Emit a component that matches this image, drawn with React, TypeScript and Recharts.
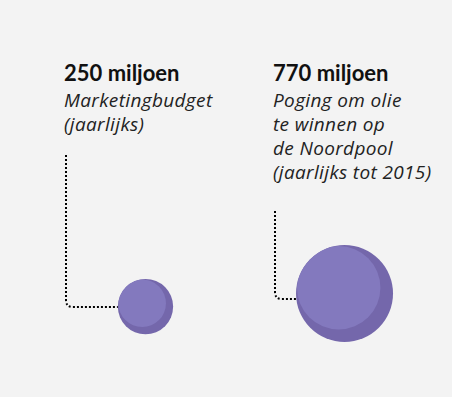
import { ScatterChart, Scatter, XAxis, YAxis, ZAxis } from 'recharts'

// two spending items, bubble area = amount (millions)
const amounts = [250, 770]
const titles = ['250 miljoen', '770 miljoen']
const descriptions = [
  ['Marketingbudget', '(jaarlijks)'],
  ['Poging om olie', 'te winnen op', 'de Noordpool', '(jaarlijks tot 2015)'],
]
const slots = [1, 2]

// annotation layout per bubble (label column offset, connector start / end)
const labelDx = [-81.5, -71.5]
const lineTop = [155, 211]
const lineDy = [0, 5.5]

const data = amounts.map((z, i) => ({ x: slots[i], y: 0, z, i }))

const FILL = '#8379be'
const SHADE = '#7467ab'
const TITLE_FONT = 'Lato, "Open Sans", sans-serif'
const TEXT_FONT = '"Open Sans", Lato, sans-serif'

// eslint-disable-next-line @typescript-eslint/no-explicit-any
function Bubble(props: any) {
  const { cx, cy, width, payload } = props
  const i = payload.i
  const r = width / 2
  const ccy = cy - 0.628 * r
  const lx = Math.round(cx + labelDx[i])
  const vx = lx + 2
  const hy = Math.round(ccy + lineDy[i])
  const corner = 7
  const left = cx - Math.sqrt(Math.max(r * r - (hy - ccy) * (hy - ccy), 0))
  const clipId = `bubble-clip-${i}`
  return (
    <g>
      <text x={lx} y={81} fontFamily={TITLE_FONT} fontWeight={700} fontSize={22} fill="#111">
        {titles[i]}
      </text>
      {descriptions[i].map((line, k) => (
        <text
          key={k}
          x={lx}
          y={107 + k * 24}
          fontFamily={TEXT_FONT}
          fontStyle="italic"
          fontWeight={400}
          fontSize={19}
          letterSpacing={0.35}
          fill="#222"
        >
          {line}
        </text>
      ))}
      <path
        d={`M${vx},${lineTop[i]} L${vx},${hy - corner} Q${vx},${hy} ${vx + corner},${hy} L${left},${hy}`}
        fill="none"
        stroke="#000"
        strokeWidth={2}
        strokeDasharray="2 2"
      />
      <defs>
        <clipPath id={clipId}>
          <circle cx={cx} cy={ccy} r={r} />
        </clipPath>
      </defs>
      <circle cx={cx} cy={ccy} r={r} fill={SHADE} />
      <circle
        cx={cx - 0.12 * r}
        cy={ccy - 0.12 * r}
        r={0.86 * r}
        fill={FILL}
        clipPath={`url(#${clipId})`}
      />
    </g>
  )
}

export default function App() {
  return (
    <div
      style={{
        position: 'absolute',
        left: 0,
        top: 0,
        width: 452,
        height: 397,
        background: '#f3f3f3',
      }}
    >
      <ScatterChart width={452} height={397} margin={{ top: 0, right: 0, bottom: 0, left: 0 }}>
        <XAxis type="number" dataKey="x" domain={[0.269, 2.54]} hide />
        <YAxis type="number" dataKey="y" domain={[-0.184, 0.816]} hide />
        <ZAxis type="number" dataKey="z" domain={[0, 770]} range={[0, 7390]} />
        <Scatter data={data} shape={<Bubble />} isAnimationActive={false} />
      </ScatterChart>
    </div>
  )
}
